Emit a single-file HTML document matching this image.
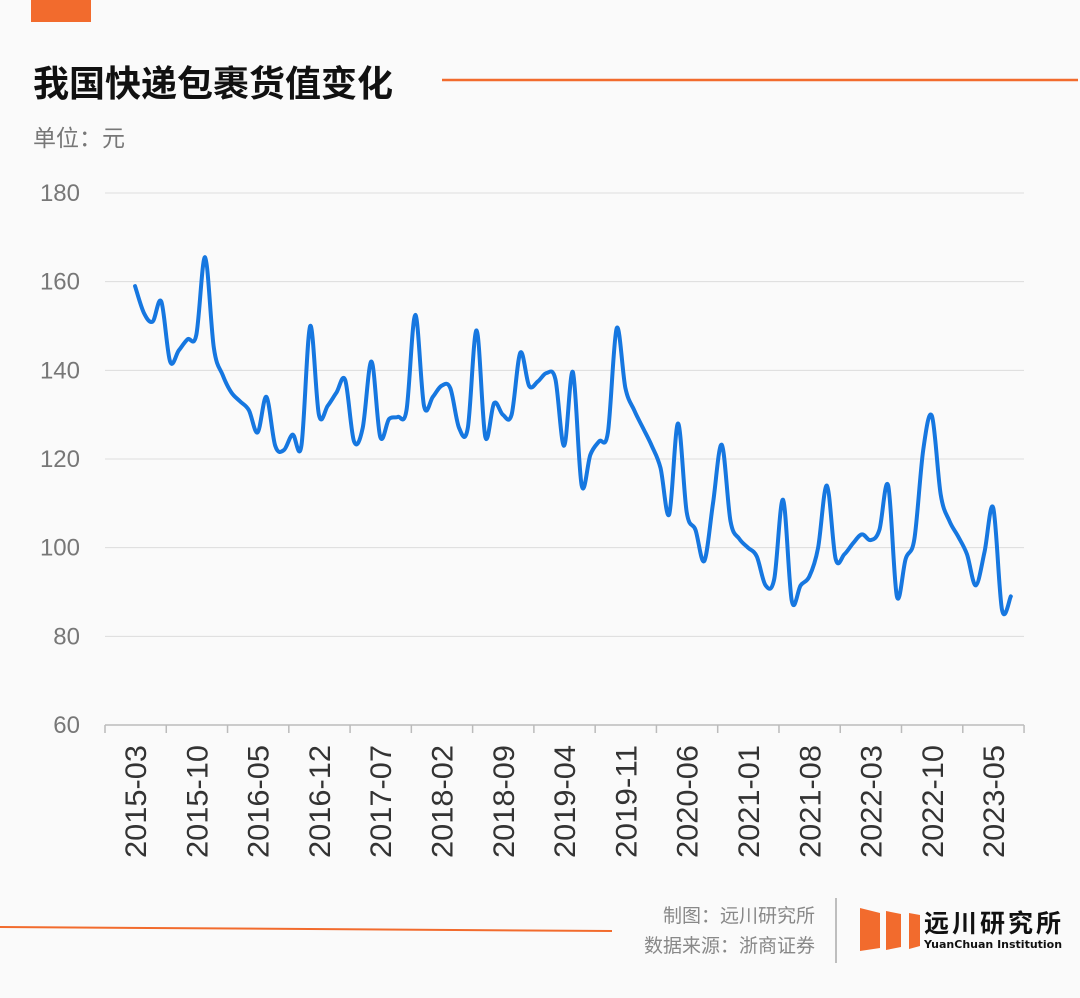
<!DOCTYPE html>
<html><head><meta charset="utf-8">
<style>
html,body{margin:0;padding:0;background:#fafafa;}
body{width:1080px;height:998px;overflow:hidden;position:relative;font-family:"Liberation Sans","Noto Sans CJK SC",sans-serif;}
</style></head>
<body>
<svg id="c" width="1080" height="998" xmlns="http://www.w3.org/2000/svg" style="position:absolute;left:0;top:0">
<rect x="31" y="0" width="60" height="22" fill="#f26b2d"/>
<text x="33" y="96" font-size="36" font-weight="bold" fill="#111" font-family="Noto Sans CJK SC, sans-serif">我国快递包裹货值变化</text>
<line x1="442" y1="80" x2="1078" y2="80" stroke="#f26b2d" stroke-width="2.5"/>
<text x="33" y="146" font-size="23" fill="#777" font-family="Noto Sans CJK SC, sans-serif">单位：元</text>
<g id="grid"></g><g id="xa"></g>
<path id="line" fill="none" stroke="#1677e0" stroke-width="4" stroke-linejoin="round" stroke-linecap="round"/>
<line x1="0" y1="927" x2="612" y2="931" stroke="#f26b2d" stroke-width="2"/>
<text x="815" y="922" text-anchor="end" font-size="19" fill="#888" font-family="Noto Sans CJK SC, sans-serif">制图：远川研究所</text>
<text x="815" y="952" text-anchor="end" font-size="19" fill="#888" font-family="Noto Sans CJK SC, sans-serif">数据来源：浙商证券</text>
<line x1="836" y1="898" x2="836" y2="963" stroke="#aaa" stroke-width="1.5"/>
<g fill="#f26b2d">
<polygon points="860,908 880,913 880,948 860,951"/>
<polygon points="886,911 901,914 901,947 886,950"/>
<polygon points="909,913 920,915 920,946 909,949"/>
</g>
<text x="924" y="932" font-size="25" font-weight="bold" fill="#111" letter-spacing="3" font-family="Noto Sans CJK SC, sans-serif">远川研究所</text>
<text x="924" y="948" font-size="11" font-weight="bold" fill="#111" font-family="DejaVu Sans, sans-serif">YuanChuan Institution</text>
</svg>
<script>
const values=[159,153,151,155.5,142,144.5,147,148,165.5,145,139,135,133,131,126,134,123,122,125.5,123,150,130,132,135,137.8,124,127,142,125,129,129.5,131,152.5,132,134,136.5,136,127,127,149,125,132.6,130,130,144,136.5,137.5,139.4,138,123,139.6,114,121,124,126,149.5,136,131,127,123,118,107.5,128,108,104,97,110,123.2,106,102,100,98,91.5,93,110.8,88,91.5,93.5,100,114,97.5,98.5,101,103,101.7,104,114,89,97.5,102,122,129.7,112,106,102.5,98.5,91.5,99,109,86,89];
const yTicks=[60,80,100,120,140,160,180];
const xLabels=["2015-03","2015-10","2016-05","2016-12","2017-07","2018-02","2018-09","2019-04","2019-11","2020-06","2021-01","2021-08","2022-03","2022-10","2023-05"];
const NS="http://www.w3.org/2000/svg";
const X0=105,MW=61.3/7;
const xs=i=>X0+MW*(i+3.43);
const ys=v=>725-(v-60)*(532/120);
const g=document.getElementById('grid'),xa=document.getElementById('xa');
function mk(t,a,p){const e=document.createElementNS(NS,t);for(const k in a)e.setAttribute(k,a[k]);p.appendChild(e);return e;}
yTicks.forEach(v=>{
 if(v>60){const l=mk('line',{x1:X0,x2:1024,y1:ys(v),y2:ys(v),stroke:'#dddddd','stroke-width':1},g);
 
 }
 const t=mk('text',{x:80,y:ys(v)+8,'text-anchor':'end','font-size':24,fill:'#777','font-family':'Liberation Sans, sans-serif'},g);
 t.textContent=v;
 
 
});
const ax=mk('line',{x1:X0,x2:1024,y1:725,y2:725,stroke:'#bbb','stroke-width':1.5},xa);


for(let k=0;k<=15;k++){const x=X0+k*61.27;
 const tk=mk('line',{x1:x,x2:x,y1:725,y2:733,stroke:'#bbb','stroke-width':1.5},xa);
 
 }
xLabels.forEach((s,k)=>{const x=xs(k*7)+11;
 const t=mk('text',{x:0,y:0,transform:`translate(${x},745) rotate(-90)`,'text-anchor':'end','font-size':30,fill:'#333','font-family':'Liberation Sans, sans-serif',textLength:113,lengthAdjust:'spacingAndGlyphs'},xa);
 t.textContent=s;
 
 
});
const P=values.map((v,i)=>[xs(i),ys(v)]);
let d=`M${P[0][0]},${P[0][1]}`;const tn=0.5;
for(let i=0;i<P.length-1;i++){const p0=P[i-1]||P[i],p1=P[i],p2=P[i+1],p3=P[i+2]||P[i+1];
 const c1=[p1[0]+(p2[0]-p0[0])*tn/3,p1[1]+(p2[1]-p0[1])*tn/3];
 const c2=[p2[0]-(p3[0]-p1[0])*tn/3,p2[1]-(p3[1]-p1[1])*tn/3];
 d+=`C${c1[0].toFixed(1)},${c1[1].toFixed(1)} ${c2[0].toFixed(1)},${c2[1].toFixed(1)} ${p2[0].toFixed(1)},${p2[1].toFixed(1)}`;}
document.getElementById('line').setAttribute('d',d);
</script>
</body></html>
